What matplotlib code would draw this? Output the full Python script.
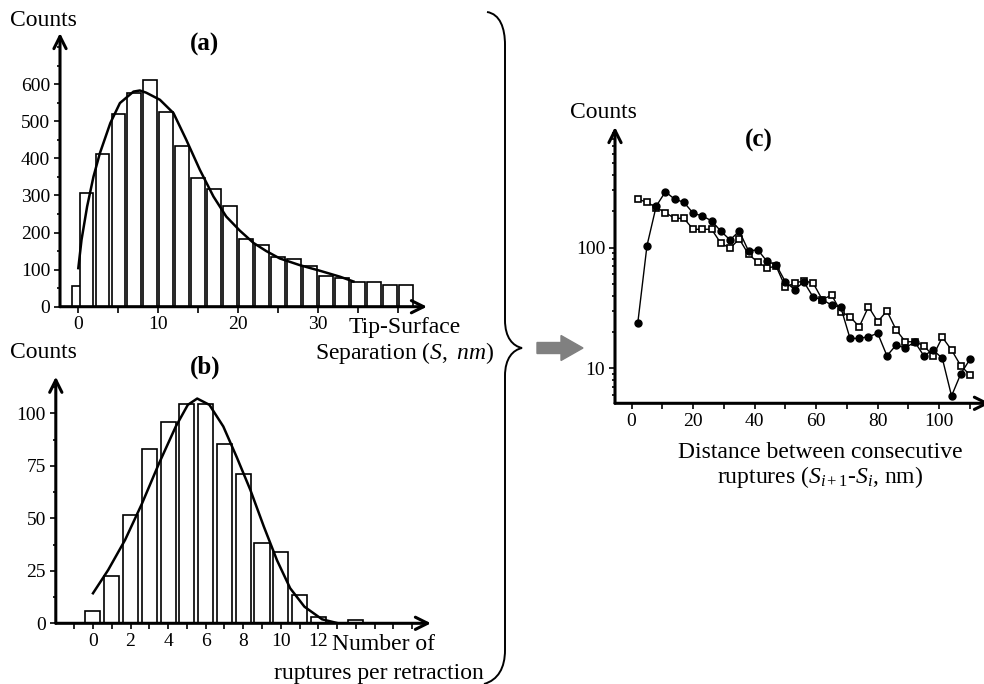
import numpy as np
import matplotlib
matplotlib.use('Agg')
import matplotlib.pyplot as plt
from matplotlib.patches import FancyArrow, PathPatch
from matplotlib.path import Path

plt.rcParams['font.family'] = ['Liberation Serif', 'DejaVu Serif']
plt.rcParams['mathtext.fontset'] = 'custom'
plt.rcParams['mathtext.rm'] = 'Liberation Serif'
plt.rcParams['mathtext.it'] = 'Liberation Serif:italic'

# (a) tip-surface separation histogram + fit
a_sep = [0, 1, 3, 5, 7, 9, 11, 13, 15, 17, 19, 21, 23, 25, 27, 29, 31, 33, 35, 37, 39, 41]
a_counts = [55, 306, 412, 520, 576, 610, 524, 432, 346, 317, 272, 182, 166, 133, 129, 110, 83, 77, 66, 66, 58, 58]
a_fit_x = [0, 0.4, 1.1, 1.9, 2.7, 4.0, 5.2, 6.9, 7.7, 8.5, 10.2, 11.9, 13.5, 15.2, 16.9, 18.5,
           20.2, 21.9, 23.5, 25.2, 27.7, 30.2, 32.7, 34.4]
a_fit_y = [104, 180, 270, 351, 414, 495, 549, 580, 583, 577, 558, 522, 450, 369, 297, 243,
           205, 172, 150, 130, 112, 97, 81, 68]

# (b) ruptures per retraction histogram + fit
b_n = [0, 1, 2, 3, 4, 5, 6, 7, 8, 9, 10, 11, 12, 14]
b_counts = [6, 22.5, 51.6, 83, 95.6, 104.4, 104.4, 85.2, 71, 38, 34, 13.5, 3.2, 1.6]
b_fit_x = [0, 0.81, 1.71, 2.61, 3.51, 4.41, 5.05, 5.55, 6.2, 6.94, 7.66, 8.38, 9.1, 9.8,
           10.5, 11.26, 12.2, 13.06]
b_fit_y = [14.3, 25.4, 39.7, 57, 76, 93.7, 104, 107, 104, 93.7, 79, 63.5, 46, 30,
           16.7, 7.9, 1.9, 0]

# (c) distance between consecutive ruptures
c_dist = [2, 5, 8, 11, 14, 17, 20, 23, 26, 29, 32, 35, 38, 41, 44, 47, 50, 53, 56, 59,
          62, 65, 68, 71, 74, 77, 80, 83, 86, 89, 92, 95, 98, 101, 104, 107, 110]
c_filled = [23.7, 104, 221, 291, 252, 238, 193, 183, 167, 137, 116, 137, 94, 96, 77, 72,
            52, 45, 52, 39, 37, 33.5, 32, 17.7, 17.7, 18.3, 19.5, 12.7, 15.6, 14.7, 16.6,
            12.7, 14.2, 12.1, 5.9, 9.0, 11.9]
c_open = [252, 238, 215, 195, 175, 175, 142, 142, 142, 109, 99, 118, 88, 76, 68, 70,
          47, 51, 53, 51, 37, 40.6, 29.5, 26.8, 22.1, 32.4, 24.4, 29.9, 20.8, 16.6, 16.6,
          15.4, 12.7, 18.1, 14.2, 10.5, 8.8]

W, H = 984, 684
fig = plt.figure(figsize=(W / 100, H / 100), dpi=100)


def px_axes(left, top, right, bottom):
    return fig.add_axes([left / W, 1 - bottom / H, (right - left) / W, (bottom - top) / H])


def arrow_axes(ax):
    for s in ax.spines.values():
        s.set_visible(False)
    props = dict(arrowstyle='->', lw=2.2, color='black', shrinkA=0, shrinkB=0, mutation_scale=22)
    ax.annotate('', xy=(1, 0), xytext=(0, 0), xycoords='axes fraction', arrowprops=props,
                annotation_clip=False)
    ax.annotate('', xy=(0, 1), xytext=(0, 0), xycoords='axes fraction', arrowprops=props,
                annotation_clip=False)
    ax.tick_params(which='both', direction='out', width=1.2, labelsize=14, pad=3)
    ax.tick_params(which='major', length=4)
    ax.tick_params(which='minor', length=2.5)
    ax.patch.set_alpha(0)


def label(x, y, s, **kw):
    kw.setdefault('ha', 'center')
    kw.setdefault('va', 'center')
    kw.setdefault('fontsize', 17)
    fig.text(x / 100, (H - y) / 100, s, transform=fig.dpi_scale_trans, **kw)


# panel (a)
ax_a = px_axes(60, 33, 427, 306.7)
ax_a.bar(a_sep, a_counts, width=1.7, color='white', edgecolor='black', linewidth=1.2)
ax_a.plot(a_fit_x, a_fit_y, color='black', lw=1.8)
ax_a.set_xlim(-2.29, 43.6)
ax_a.set_ylim(0, 738)
ax_a.set_xticks(np.arange(0, 45, 5))
ax_a.set_xticklabels(['0', '', '10', '', '20', '', '30', '', ''])
ax_a.set_yticks(np.arange(0, 700, 100))
ax_a.set_yticks(np.arange(50, 750, 50), minor=True)
arrow_axes(ax_a)

# panel (b)
ax_b = px_axes(55.8, 376.7, 431, 623.3)
ax_b.bar(b_n, b_counts, width=0.8, color='white', edgecolor='black', linewidth=1.2)
ax_b.plot(b_fit_x, b_fit_y, color='black', lw=1.8)
ax_b.set_xlim(-1.98, 18.0)
ax_b.set_ylim(0, 117.4)
ax_b.set_xticks(np.arange(-1, 18, 1))
ax_b.set_xticklabels([str(v) if (0 <= v <= 12 and v % 2 == 0) else '' for v in range(-1, 18)])
ax_b.set_yticks([0, 25, 50, 75, 100])
ax_b.set_yticks(np.arange(12.5, 117, 25), minor=True)
arrow_axes(ax_b)

# panel (c)
ax_c = px_axes(615, 127, 990, 403.3)
ax_c.set_yscale('log')
ax_c.plot(c_dist, c_open, color='black', lw=1, marker='s', markersize=5,
          markerfacecolor='white', markeredgecolor='black', markeredgewidth=1.2)
ax_c.plot(c_dist, c_filled, color='black', lw=1, marker='o', markersize=5,
          markerfacecolor='black', markeredgecolor='black')
ax_c.set_xlim(-5.4, 116.5)
ax_c.set_ylim(5.13, 1000)
ax_c.set_xticks(np.arange(0, 120, 10))
ax_c.set_xticklabels([str(v) if v % 20 == 0 else '' for v in range(0, 120, 10)])
ax_c.set_yticks([10, 100])
ax_c.set_yticklabels(['10', '100'])
arrow_axes(ax_c)

# texts
label(43, 20, 'Counts')
label(205, 44, '(a)', fontweight='bold', fontsize=18)
label(405, 328, 'Tip-Surface')
label(405, 353, r'Separation ($\mathit{S,}$ $\mathit{nm}$)')
label(43, 353, 'Counts')
label(205, 367, '(b)', fontweight='bold', fontsize=18)
label(383, 645, 'Number of')
label(379, 673, 'ruptures per retraction')
label(603, 112, 'Counts')
label(759, 140, '(c)', fontweight='bold', fontsize=18)
label(820, 452, 'Distance between consecutive')
label(820, 477, r'ruptures ($S_{i+1}$-$S_{i}$, nm)')

# curly brace and grey arrow
pts = [(487, 12), (500, 14), (505, 28), (505, 45),
       (505, 320),
       (505, 338), (513, 346), (522, 348),
       (513, 350), (505, 358), (505, 376),
       (505, 650),
       (505, 668), (498, 680), (484, 684)]
codes = [Path.MOVETO, Path.CURVE4, Path.CURVE4, Path.CURVE4,
         Path.LINETO,
         Path.CURVE4, Path.CURVE4, Path.CURVE4,
         Path.CURVE4, Path.CURVE4, Path.CURVE4,
         Path.LINETO,
         Path.CURVE4, Path.CURVE4, Path.CURVE4]
verts = [(x / 100, (H - y) / 100) for x, y in pts]
brace = PathPatch(Path(verts, codes), facecolor='none', edgecolor='black', lw=1.4,
                  transform=fig.dpi_scale_trans)
fig.add_artist(brace)

arr = FancyArrow(537 / 100, (H - 348) / 100, 0.46, 0, width=0.11, head_width=0.25,
                 head_length=0.22, length_includes_head=True, color='#808080',
                 transform=fig.dpi_scale_trans)
fig.add_artist(arr)

fig.savefig('out.png', dpi=100)
